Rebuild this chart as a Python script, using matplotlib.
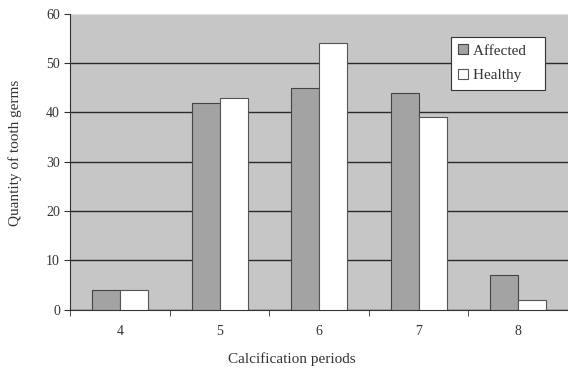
import numpy as np
import matplotlib.pyplot as plt

# Number of tooth germs per calcification period
periods = ['4', '5', '6', '7', '8']
affected = [4, 42, 45, 44, 7]
healthy = [4, 43, 54, 39, 2]

plt.rcParams['font.family'] = ['Liberation Serif', 'DejaVu Serif']

fig = plt.figure(figsize=(5.68, 3.71), dpi=100)
ax = fig.add_axes([0.124, 0.165, 0.876, 0.798])
ax.set_facecolor('#c6c6c6')

x = np.arange(len(periods))
w = 0.28
ax.bar(x - w / 2, affected, w, color='#a3a3a3', edgecolor='#444444', linewidth=0.8,
       label='Affected   ', zorder=3)
ax.bar(x + w / 2, healthy, w, color='white', edgecolor='#555555', linewidth=0.8,
       label='Healthy   ', zorder=3)

ax.set_xlim(-0.5, len(periods) - 0.5)
ax.set_ylim(0, 60)
ax.set_yticks(range(0, 61, 10))
ax.set_xticks(x)
ax.set_xticklabels(periods)
ax.set_xticks(np.arange(len(periods) + 1) - 0.5, minor=True)
ax.tick_params(axis='x', which='major', length=0, pad=11, labelsize=10, colors='#333333')
ax.tick_params(axis='x', which='minor', length=4, direction='out', color='#333333')
ax.tick_params(axis='y', length=4, direction='out', labelsize=10, colors='#333333')

ax.yaxis.grid(True, color='#2a2a2a', linewidth=1.0, zorder=1)
ax.set_axisbelow(True)
# top edge of the plot area is a light line, not a dark gridline
ax.get_ygridlines()[-1].set_color('#e0e0e0')

for side in ['top', 'right']:
    ax.spines[side].set_visible(False)
ax.spines['left'].set_color('#333333')
ax.spines['bottom'].set_color('#333333')

ax.set_xlabel('Calcification periods', fontsize=11, color='#333333')
ax.xaxis.set_label_coords(0.444, -0.145)
ax.set_ylabel('Quantity of tooth germs', fontsize=11, color='#333333')
ax.yaxis.set_label_coords(-0.098, 0.53)

leg = ax.legend(loc='upper right', bbox_to_anchor=(0.954, 0.922), fontsize=11,
                frameon=True, fancybox=False, edgecolor='#333333', framealpha=1,
                handlelength=0.6, handleheight=0.6, handletextpad=0.35,
                borderpad=0.5, labelspacing=0.75, borderaxespad=0)
leg.get_frame().set_linewidth(0.8)
for t in leg.get_texts():
    t.set_color('#333333')

fig.savefig('out.png', dpi=100)
